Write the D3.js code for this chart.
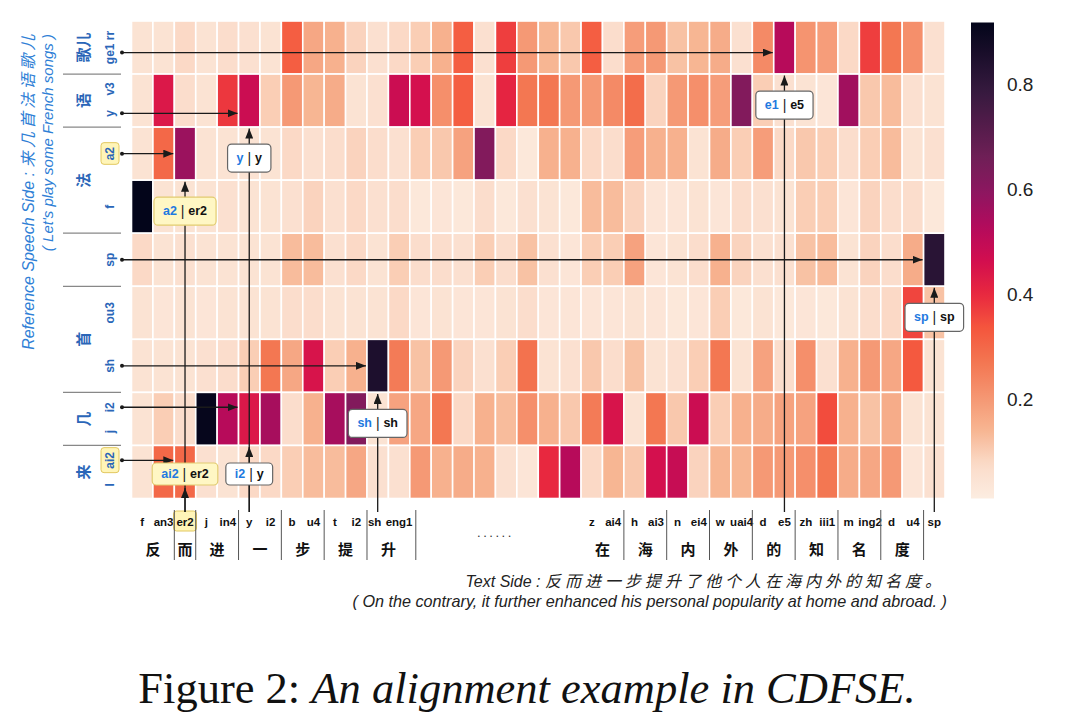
<!DOCTYPE html>
<html><head><meta charset="utf-8">
<script src="https://cdn.jsdelivr.net/npm/d3@7"></script>
<style>body{margin:0;background:#fff;} svg{display:block;}</style>
</head><body>
<svg id="chart" width="1080" height="725"></svg>
<script>
// ---------------- DATA ----------------
const textPhones = ["f","an3","er2","j","in4","y","i2","b","u4","t","i2","sh","eng1","","","","","","","","","z","ai4","h","ai3","n","ei4","w","uai4","d","e5","zh","iii1","m","ing2","d","u4","sp"];
const textChars = ["反","而","进","一","步","提","升","......","在","海","内","外","的","知","名","度",""];
const textCharSpans = [2,1,2,2,2,2,2,8,2,2,2,2,2,2,2,2,1];

const speechRowPhones = [["ge1 rr"],["y","v3"],["a2"],["f"],["sp"],["ou3"],["sh"],["j","i2"],["l","ai2"]];
const speechChars = ["歌儿","语","法","","首","几","来"];
const speechCharSpans = [1,1,2,1,2,1,1];

const rowGe1rr = [0.05,0.05,0.08,0.05,0.07,0.06,0.05,0.32,0.17,0.15,0.09,0.06,0.08,0.10,0.15,0.32,0.06,0.37,0.20,0.14,0.11,0.32,0.07,0.19,0.20,0.12,0.14,0.16,0.06,0.23,0.52,0.21,0.19,0.08,0.37,0.27,0.22,0.06];
const rowYv3   = [0.05,0.44,0.07,0.05,0.38,0.48,0.10,0.20,0.14,0.16,0.05,0.06,0.48,0.46,0.22,0.32,0.05,0.41,0.27,0.27,0.20,0.20,0.23,0.29,0.09,0.20,0.22,0.19,0.62,0.10,0.06,0.05,0.04,0.56,0.11,0.13,0.06,0.05];
const rowA2    = [0.05,0.30,0.57,0.05,0.05,0.05,0.05,0.08,0.06,0.07,0.09,0.07,0.06,0.10,0.11,0.18,0.62,0.08,0.03,0.15,0.15,0.08,0.07,0.19,0.15,0.15,0.05,0.16,0.10,0.19,0.08,0.11,0.10,0.07,0.10,0.13,0.05,0.06];
const rowF     = [0.918,0.05,0.05,0.05,0.06,0.05,0.05,0.06,0.09,0.06,0.08,0.06,0.07,0.03,0.04,0.03,0.07,0.03,0.06,0.05,0.03,0.13,0.13,0.09,0.04,0.04,0.05,0.04,0.07,0.06,0.05,0.10,0.10,0.04,0.09,0.07,0.07,0.03];
const rowSp    = [0.08,0.05,0.06,0.05,0.05,0.05,0.05,0.13,0.13,0.06,0.08,0.05,0.10,0.07,0.07,0.06,0.10,0.07,0.12,0.06,0.04,0.10,0.10,0.18,0.04,0.05,0.07,0.15,0.09,0.06,0.06,0.12,0.13,0.05,0.09,0.07,0.16,0.82];
const rowOu3   = [0.05,0.04,0.05,0.04,0.05,0.05,0.05,0.07,0.07,0.05,0.05,0.05,0.08,0.04,0.05,0.04,0.04,0.05,0.07,0.04,0.04,0.04,0.04,0.05,0.04,0.03,0.04,0.10,0.03,0.05,0.03,0.04,0.03,0.05,0.07,0.08,0.36,0.12];
const rowSh    = [0.05,0.05,0.05,0.06,0.07,0.10,0.27,0.17,0.45,0.10,0.15,0.85,0.26,0.12,0.20,0.09,0.06,0.10,0.28,0.05,0.06,0.11,0.07,0.12,0.05,0.06,0.10,0.27,0.05,0.18,0.07,0.22,0.06,0.15,0.20,0.17,0.33,0.05];
const rowJi2   = [0.05,0.10,0.07,0.91,0.52,0.44,0.55,0.07,0.15,0.55,0.62,0.05,0.18,0.17,0.27,0.08,0.15,0.13,0.22,0.15,0.11,0.26,0.45,0.05,0.27,0.11,0.48,0.10,0.15,0.16,0.18,0.18,0.35,0.15,0.12,0.16,0.05,0.05];
const rowLai2  = [0.05,0.30,0.30,0.06,0.05,0.08,0.08,0.10,0.13,0.13,0.17,0.06,0.06,0.20,0.15,0.16,0.15,0.06,0.04,0.40,0.52,0.08,0.14,0.11,0.46,0.49,0.09,0.14,0.14,0.20,0.20,0.22,0.27,0.16,0.17,0.20,0.04,0.06];

const alignRows = [0,1,2,4,6,7,8];
const alignCols = [30,5,2,37,11,5,2];
const alignSpeech = ["e1","y","a2","sp","sh","i2","ai2"];
const alignText = ["e5","y","er2","sp","sh","y","er2"];
const alignHighlight = [false,false,true,false,false,false,true];

const colorbarTicks = [0.2,0.4,0.6,0.8];

// ---------------- DRAW ----------------
const values = [rowGe1rr,rowYv3,rowA2,rowF,rowSp,rowOu3,rowSh,rowJi2,rowLai2];
const nRows = values.length, nCols = textPhones.length;
const svg = d3.select("#chart");
const SANS = "'Liberation Sans', Arial, Helvetica, sans-serif";
const CJK = "'Liberation Sans', 'Noto Sans CJK SC', sans-serif";

const x = d3.scaleBand().domain(d3.range(nCols)).range([131.5, 945]);
const y = d3.scaleBand().domain(d3.range(nRows)).range([21, 498.5]);
const vmin = 0.012, vmax = 0.918;
const tScale = d3.scaleLinear().domain([vmin, vmax]).range([0,1]).clamp(true);
const stopT = [0, 0.07, 0.143, 0.286, 0.36, 0.429, 0.5, 0.571, 0.643, 0.714, 0.857, 1];
const stopC = ["#fcede1","#fbdcca","#f7b592","#f37651","#f4553d","#e8283f","#d20e4f","#b30b5c","#8d1660","#701f57","#35193e","#03051a"];
const ramp = d3.scaleLinear().domain(stopT).range(stopC).interpolate(d3.interpolateRgb);
const color = v => ramp(tScale(v));

// arrow marker
const defs = svg.append("defs");
defs.append("marker").attr("id","arr").attr("markerUnits","userSpaceOnUse")
  .attr("markerWidth",10).attr("markerHeight",8).attr("refX",10).attr("refY",4).attr("orient","auto")
  .append("path").attr("d","M0,0 L10,4 L0,8 Z").attr("fill","#1a1a1a");

// cells
const cells = [];
values.forEach((row,r)=>row.forEach((v,c)=>cells.push({r,c,v})));
svg.append("g").selectAll("rect").data(cells).join("rect")
  .attr("x",d=>x(d.c)).attr("y",d=>y(d.r))
  .attr("width",x.bandwidth()).attr("height",y.bandwidth())
  .attr("fill",d=>color(d.v)).attr("stroke","#fff").attr("stroke-width",1.6);

// colorbar
const cb = d3.scaleLinear().domain([vmin, vmax]).range([498.5, 22.5]);
const grad = defs.append("linearGradient").attr("id","cbg").attr("x1",0).attr("y1",1).attr("x2",0).attr("y2",0);
d3.range(0,1.0001,0.02).forEach(t=>grad.append("stop").attr("offset",t).attr("stop-color",ramp(t)));
svg.append("rect").attr("x",971).attr("y",cb(vmax)).attr("width",23).attr("height",cb(vmin)-cb(vmax)).attr("fill","url(#cbg)");
svg.append("g").selectAll("text").data(colorbarTicks).join("text")
  .attr("x",1007).attr("y",d=>cb(d)).attr("dominant-baseline","central")
  .attr("font-family",SANS).attr("font-size",19).attr("fill","#222").text(d=>d.toFixed(1));

// ---------- bottom (text side) labels ----------
const bottomG = svg.append("g");
textPhones.forEach((p,c)=>{
  if(!p) return;
  let cx = x(c)+x.bandwidth()/2;
  if(p==="sh" && textPhones[c+1]==="eng1") cx -= 3;
  const hl = alignHighlight.some((h,i)=>h && alignCols[i]===c && alignText[i]===p);
  if(hl){
    bottomG.append("rect").attr("x",cx-11.5).attr("y",511).attr("width",23).attr("height",20).attr("rx",3)
      .attr("fill","#fff5b8").attr("stroke","#e2c860").attr("stroke-width",1);
  }
  bottomG.append("text").attr("x",cx).attr("y",526).attr("text-anchor","middle")
    .attr("font-family",SANS).attr("font-weight","bold").attr("font-size",11.5).attr("fill","#111").text(p);
});
let acc = 0;
textChars.forEach((ch,g)=>{
  const c0 = acc, c1 = acc + textCharSpans[g] - 1;
  acc += textCharSpans[g];
  const cx = (x(c0) + x(c1) + x.bandwidth())/2;
  if(ch==="......"){
    bottomG.append("text").attr("x",cx).attr("y",537).attr("text-anchor","middle")
      .attr("font-family",SANS).attr("font-size",13).attr("letter-spacing",2.5).attr("fill","#333").text(ch);
    return;
  }
  if(ch){
    bottomG.append("text").attr("x",cx).attr("y",555).attr("text-anchor","middle")
      .attr("font-family",CJK).attr("font-weight","bold").attr("font-size",15).attr("fill","#111").text(ch);
    let sx = x(c1)+x.bandwidth();
    if(g===6) sx += 6;
    bottomG.append("line").attr("x1",sx).attr("x2",sx).attr("y1",510).attr("y2",560)
      .attr("stroke","#555").attr("stroke-width",1);
  }
});

// ---------- left (speech side) labels ----------
const leftG = svg.append("g");
const phoneX = 110, charX = 83, dotX = 122;
const phoneY = [];
speechRowPhones.forEach((ph,r)=>{
  const top = y(r), h = y.step();
  const ys = ph.length===1 ? [top+h/2] : [top+h*0.74, top+h*0.28];
  phoneY.push(ys);
  ph.forEach((p,i)=>{
    const g = leftG.append("g").attr("transform",`translate(${phoneX},${ys[i]}) rotate(-90)`);
    const hl = alignHighlight.some((hh,k)=>hh && alignRows[k]===r && alignSpeech[k]===p);
    const t = g.append("text").attr("text-anchor","middle").attr("dominant-baseline","central")
      .attr("font-family",SANS).attr("font-weight","bold").attr("font-size",12).attr("fill","#2a66b8").text(p);
    if(hl){
      const b = t.node().getBBox();
      g.insert("rect","text").attr("x",b.x-4).attr("y",b.y-2).attr("width",b.width+8).attr("height",b.height+4).attr("rx",3)
        .attr("fill","#fff5b8").attr("stroke","#e2c860").attr("stroke-width",1);
    }
  });
});
acc = 0;
speechChars.forEach((ch,g)=>{
  const r0 = acc, r1 = acc + speechCharSpans[g] - 1;
  acc += speechCharSpans[g];
  const cy = (y(r0) + y(r1) + y.bandwidth())/2;
  if(ch){
    leftG.append("text").attr("transform",`translate(${charX},${cy}) rotate(-90)`)
      .attr("text-anchor","middle").attr("dominant-baseline","central")
      .attr("font-family",CJK).attr("font-weight","bold").attr("font-size",15).attr("fill","#2a66b8").text(ch);
  }
  if(g < speechChars.length-1){
    const sy = y(r1)+y.step();
    leftG.append("line").attr("x1",63).attr("x2",121).attr("y1",sy).attr("y2",sy).attr("stroke","#888").attr("stroke-width",1.2);
  }
});

// axis titles
svg.append("text").attr("transform","translate(28,31) rotate(-90)").attr("text-anchor","end")
  .attr("dominant-baseline","central").attr("font-family",CJK).attr("font-style","italic").attr("font-size",16).attr("fill","#2f7fd6")
  .call(t=>{t.append("tspan").text("Reference Speech Side : ");
           t.append("tspan").attr("letter-spacing",3.5).text("来几首法语歌儿");});
svg.append("text").attr("transform","translate(47,34) rotate(-90)").attr("text-anchor","end")
  .attr("dominant-baseline","central").attr("font-family",SANS).attr("font-style","italic").attr("font-size",15).attr("fill","#2f7fd6")
  .text("( Let's play some French songs )");

// ---------- alignment arrows ----------
const arrG = svg.append("g");
alignRows.forEach((r,i)=>{
  const c = alignCols[i];
  const cx = x(c)+x.bandwidth()/2;
  const rowBottom = y(r)+y.step();
  const ph = speechRowPhones[r];
  const idx = ph.indexOf(alignSpeech[i]);
  const ay = idx<0 ? phoneY[r][0] + 5 : phoneY[r][idx];
  arrG.append("line").attr("x1",dotX).attr("x2",x(c)-1).attr("y1",ay).attr("y2",ay)
    .attr("stroke","#1a1a1a").attr("stroke-width",1.3).attr("marker-end","url(#arr)");
  arrG.append("circle").attr("cx",dotX).attr("cy",ay).attr("r",2).attr("fill","#1a1a1a");
  const boxCy = Math.min(rowBottom + 31, 474);
  const boxH = boxCy >= 474 ? 22 : 28;
  const tipY = r === nRows-1 ? boxCy + boxH/2 + 3 : rowBottom + 1.5;
  arrG.append("line").attr("x1",cx).attr("x2",cx).attr("y1",512).attr("y2",tipY)
    .attr("stroke","#1a1a1a").attr("stroke-width",1.3).attr("marker-end","url(#arr)");
});
alignRows.forEach((r,i)=>{
  const c = alignCols[i];
  const cx = x(c)+x.bandwidth()/2;
  const rowBottom = y(r)+y.step();
  const boxCy = Math.min(rowBottom + 31, 474);
  const boxH = boxCy >= 474 ? 22 : 28;
  const g = svg.append("g").attr("transform",`translate(${cx},${boxCy})`);
  const t = g.append("text").attr("text-anchor","middle").attr("dominant-baseline","central")
    .attr("font-family",SANS).attr("font-weight","bold").attr("font-size",12.5);
  t.append("tspan").attr("fill","#1f7ae0").text(alignSpeech[i]);
  t.append("tspan").attr("fill","#222").attr("font-weight","normal").attr("font-size",14).text(" | ");
  t.append("tspan").attr("fill","#111").text(alignText[i]);
  const w = t.node().getComputedTextLength() + 18;
  g.insert("rect","text").attr("x",-w/2).attr("y",-boxH/2).attr("width",w).attr("height",boxH).attr("rx",4)
    .attr("fill",alignHighlight[i] ? "#fff7c4" : "#fff")
    .attr("stroke",alignHighlight[i] ? "#e2cc70" : "#666").attr("stroke-width",1.2);
});

// ---------- captions ----------
svg.append("text").attr("x",945).attr("y",587).attr("text-anchor","end")
  .attr("font-family",CJK).attr("font-style","italic").attr("font-size",16).attr("fill","#222")
  .call(t=>{t.append("tspan").text("Text Side : ");
           t.append("tspan").attr("letter-spacing",4).text("反而进一步提升了他个人在海内外的知名度。");});
svg.append("text").attr("x",947).attr("y",607).attr("text-anchor","end")
  .attr("font-family",SANS).attr("font-style","italic").attr("font-size",16.2).attr("fill","#222")
  .text("( On the contrary, it further enhanced his personal popularity at home and abroad. )");
svg.append("text").attr("x",527).attr("y",703).attr("text-anchor","middle")
  .attr("font-family","'Liberation Serif','Times New Roman',serif").attr("font-size",44.5).attr("fill","#111")
  .call(t=>{t.append("tspan").text("Figure 2: ");
           t.append("tspan").attr("font-style","italic").text("An alignment example in CDFSE.");});
</script>
</body></html>
